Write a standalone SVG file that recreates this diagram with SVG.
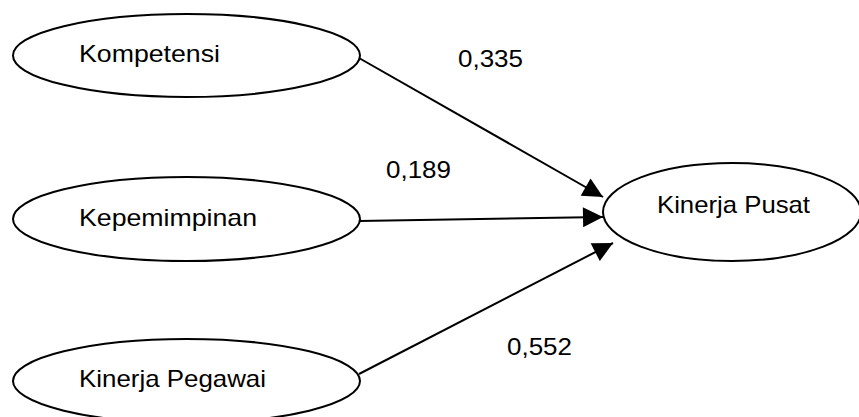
<svg xmlns="http://www.w3.org/2000/svg" width="859" height="417" viewBox="0 0 859 417">
  <style>
    .node ellipse { fill: #ffffff; stroke: #000000; stroke-width: 2; }
    .node text, .label { font-family: "Liberation Sans", Arial, sans-serif; font-size: 24px; fill: #000000; }
    .edge { stroke: #000000; stroke-width: 2; fill: none; marker-end: url(#arrow); }
  </style>
  <defs>
    <!-- solid triangular head, 20px long and 20px wide, tip on the line end -->
    <marker id="arrow" viewBox="0 0 20 20" refX="20" refY="10" markerWidth="20" markerHeight="20" markerUnits="userSpaceOnUse" orient="auto" overflow="visible">
      <path d="M0,0 L20,10 L0,20 Z" fill="#000000"/>
    </marker>
  </defs>

  <g id="kompetensi" class="node">
    <ellipse cx="186.5" cy="55.5" rx="173.5" ry="41.5"/>
    <text x="79" y="62" textLength="141" lengthAdjust="spacingAndGlyphs">Kompetensi</text>
  </g>
  <g id="kepemimpinan" class="node">
    <ellipse cx="186.5" cy="219" rx="173.5" ry="42"/>
    <text x="79" y="226" textLength="178" lengthAdjust="spacingAndGlyphs">Kepemimpinan</text>
  </g>
  <g id="kinerja-pegawai" class="node">
    <ellipse cx="186.5" cy="381" rx="173.5" ry="42"/>
    <text x="79" y="387" textLength="187" lengthAdjust="spacingAndGlyphs">Kinerja Pegawai</text>
  </g>
  <g id="kinerja-pusat" class="node">
    <ellipse cx="732" cy="212" rx="129" ry="49"/>
    <text x="657" y="213" textLength="153" lengthAdjust="spacingAndGlyphs">Kinerja Pusat</text>
  </g>

  <g id="connectors">
    <line class="edge" x1="359" y1="58" x2="603" y2="197"/>
    <line class="edge" x1="359" y1="221" x2="603" y2="217"/>
    <line class="edge" x1="359" y1="374" x2="613" y2="243"/>
    <text class="label" x="458" y="67" textLength="65" lengthAdjust="spacingAndGlyphs">0,335</text>
    <text class="label" x="386" y="178" textLength="65" lengthAdjust="spacingAndGlyphs">0,189</text>
    <text class="label" x="507" y="355" textLength="65" lengthAdjust="spacingAndGlyphs">0,552</text>
  </g>
</svg>
